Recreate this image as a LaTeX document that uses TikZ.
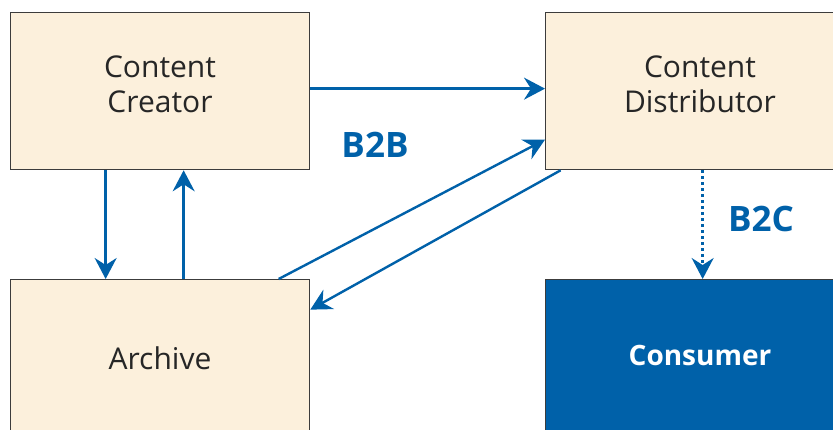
\documentclass[tikz,border=0pt]{standalone}
\usepackage{fontspec}
\setmainfont{Open Sans}
\usetikzlibrary{arrows.meta}
\definecolor{boxfill}{HTML}{FCF0DC}
\definecolor{boxline}{HTML}{3C3C3C}
\definecolor{linkblue}{HTML}{0061A9}
\tikzset{
  party/.style={draw=boxline, line width=1.3pt, fill=boxfill, rectangle,
    inner sep=0pt, anchor=north west},
  buyer/.style={party, fill=linkblue},
  caption/.style={font=\fontsize{30}{35}\selectfont, text=black!85, align=center},
  flow/.style={draw=linkblue, line width=2.4pt,
    -{Stealth[length=21pt,width=22pt,inset=7pt]}},
  tag/.style={font=\fontsize{35}{40}\selectfont\bfseries, text=linkblue}
}
\begin{document}
\begin{tikzpicture}[x=1pt,y=-1pt]
\clip (0,0) rectangle (833,430);
\fill[white] (0,0) rectangle (833,430);

% boxes
\node[party, minimum width=299pt, minimum height=157pt] (creator) at (10,12) {};
\node[party, minimum width=310pt, minimum height=157pt] (distributor) at (545,12) {};
\node[party, minimum width=299pt, minimum height=158pt] (archive) at (10,279) {};
\node[buyer, minimum width=310pt, minimum height=158pt] (consumer) at (545,279) {};

% box texts
\node[caption] (creator-txt) at (160,84) {Content\\Creator};
\node[caption] (distributor-txt) at (700,84) {Content\\Distributor};
\node[caption] (archive-txt) at (160,358) {Archive};
\node[caption, font=\fontsize{28}{33}\selectfont\bfseries, text=white]
  (consumer-txt) at (700,355) {Consumer};

% connectors
\draw[flow] ([yshift=2.5pt]creator.east) -- ([yshift=2.5pt]distributor.west);
\draw[flow] ([xshift=-54.5pt]creator.south) -- ([xshift=-54.5pt]archive.north);
\draw[flow] ([xshift=23.5pt]archive.north) -- ([xshift=23.5pt]creator.south);
\draw[flow] ([xshift=118.5pt]archive.north) -- ([yshift=-48.5pt]distributor.west);
\draw[flow] ([xshift=-140pt]distributor.south) -- ([yshift=49pt]archive.east);
\draw[flow, dash pattern=on 2.5pt off 3.5pt]
  ([xshift=2pt]distributor.south) -- ([xshift=2pt]consumer.north);

% relationship labels
\node[tag] (b2b) at (375,145) {B2B};
\node[tag] (b2c) at (761,219) {B2C};
\end{tikzpicture}
\end{document}
